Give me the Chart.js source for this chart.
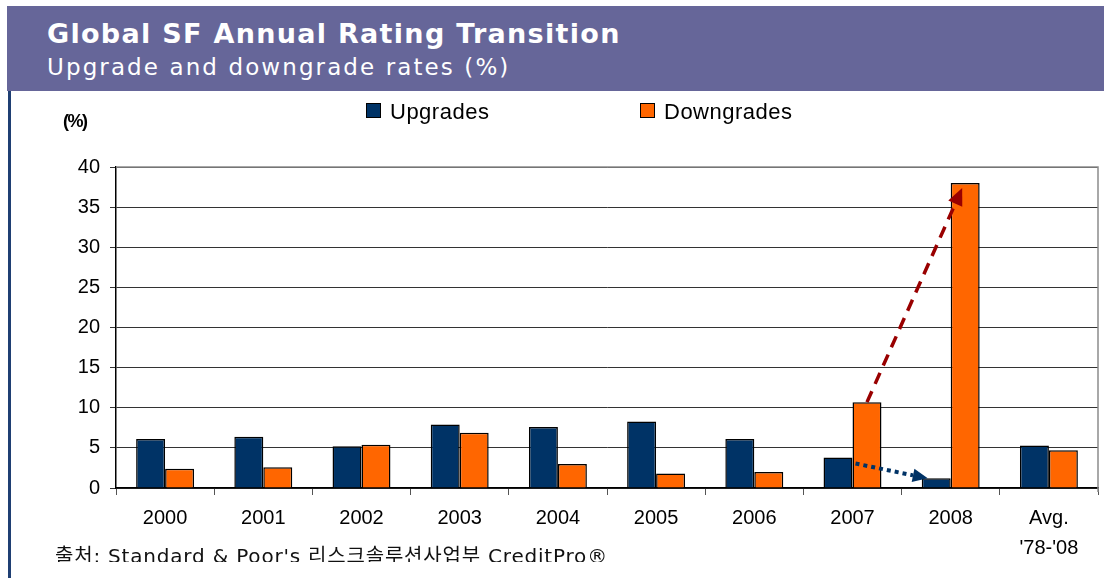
<!DOCTYPE html>
<html>
<head>
<meta charset="utf-8">
<script src="https://cdn.jsdelivr.net/npm/chart.js@4.4.1/dist/chart.umd.min.js"></script>
<style>
  html, body { margin: 0; padding: 0; background: #fff; }
  body { width: 1104px; height: 578px; position: relative; overflow: hidden; }
  #header { position: absolute; left: 7px; top: 6px; width: 1097px; height: 85px; background: #666699; color: #fff; font-family: "DejaVu Sans", Verdana, sans-serif; }
  #header .t1 { position: absolute; left: 40px; top: 12px; font-size: 27px; line-height: 32px; font-weight: bold; letter-spacing: 1.3px; }
  #header .t2 { position: absolute; left: 40px; top: 48px; font-size: 23px; line-height: 26px; letter-spacing: 2.1px; }
  #leftbar { position: absolute; left: 8px; top: 91px; width: 3px; height: 487px; background: #1f3f73; }
  #ytitle { position: absolute; left: 63px; top: 111px; font: bold 18px "Liberation Sans", Arial, sans-serif; letter-spacing: -1.5px; }
  .leg { position: absolute; top: 99px; font: 22px "Liberation Sans", Arial, sans-serif; letter-spacing: 0.5px; color: #000; }
  .leg span { display: inline-block; width: 13px; height: 13px; border: 1px solid #000; margin-right: 9px; vertical-align: 1px; }
  #source { position: absolute; left: 55px; top: 544px; height: 18px; overflow: hidden; font: 20px "DejaVu Sans", "Noto Sans CJK KR", sans-serif; line-height: 24px; letter-spacing: 0.8px; white-space: nowrap; color: #111; }
  #wrap { position: absolute; left: 0; top: 0; width: 1104px; height: 578px; }
</style>
</head>
<body>
<div id="header">
  <div class="t1">Global SF Annual Rating Transition</div>
  <div class="t2">Upgrade and downgrade rates (%)</div>
</div>
<div id="leftbar"></div>
<div id="wrap"><canvas id="rating-chart"></canvas></div>
<div id="ytitle">(%)</div>
<div id="legend"></div>
<div id="source">출처: Standard &amp; Poor's 리스크솔루션사업부 CreditPro®</div>
<script>
// chart data
const categories = ['2000', '2001', '2002', '2003', '2004', '2005', '2006', '2007', '2008', ['Avg.', "'78-'08"]];
const upgrades   = [6.1, 6.4, 5.2, 7.9, 7.6, 8.3, 6.1, 3.8, 1.2, 5.3];
const downgrades = [2.4, 2.6, 5.4, 6.9, 3.0, 1.8, 2.0, 10.7, 38.0, 4.7];
const yTicks = [0, 5, 10, 15, 20, 25, 30, 35, 40];

const upColor = '#003366';
const downColor = '#ff6600';

// html legend, placed like the original
const legendItems = [
    { label: 'Upgrades', color: upColor, left: 366 },
    { label: 'Downgrades', color: downColor, left: 640 }
];
legendItems.forEach(item => {
    const d = document.createElement('div');
    d.className = 'leg';
    d.style.left = item.left + 'px';
    d.innerHTML = '<span style="background:' + item.color + '"></span>' + item.label;
    document.getElementById('legend').appendChild(d);
});

function drawArrow(ctx, x1, y1, x2, y2, color, width, dash, head) {
    const ang = Math.atan2(y2 - y1, x2 - x1);
    const bx = x2 - Math.cos(ang) * head;
    const by = y2 - Math.sin(ang) * head;
    ctx.save();
    ctx.strokeStyle = color;
    ctx.fillStyle = color;
    ctx.lineWidth = width;
    ctx.setLineDash(dash);
    ctx.beginPath();
    ctx.moveTo(x1, y1);
    ctx.lineTo(bx, by);
    ctx.stroke();
    ctx.setLineDash([]);
    ctx.beginPath();
    ctx.moveTo(x2, y2);
    ctx.lineTo(bx + Math.cos(ang + Math.PI / 2) * head * 0.45, by + Math.sin(ang + Math.PI / 2) * head * 0.45);
    ctx.lineTo(bx + Math.cos(ang - Math.PI / 2) * head * 0.45, by + Math.sin(ang - Math.PI / 2) * head * 0.45);
    ctx.closePath();
    ctx.fill();
    ctx.restore();
}

// right/top frame of the plot + the two arrows
const extras = {
    id: 'extras',
    beforeDatasetsDraw(chart) {
        const a = chart.chartArea;
        const ctx = chart.ctx;
        ctx.save();
        ctx.strokeStyle = '#8c8c8c';
        ctx.lineWidth = 1.5;
        ctx.beginPath();
        ctx.moveTo(a.left, a.top);
        ctx.lineTo(a.right, a.top);
        ctx.lineTo(a.right, a.bottom + 4);
        ctx.stroke();
        ctx.restore();
    },
    afterDatasetsDraw(chart) {
        const ctx = chart.ctx;
        const up = chart.getDatasetMeta(0).data;
        const down = chart.getDatasetMeta(1).data;
        // 2007 -> 2008 downgrades
        drawArrow(ctx, down[7].x, down[7].y, down[8].x - 3, down[8].y + 5, '#990000', 3.5, [12, 8], 17);
        // 2007 -> 2008 upgrades
        drawArrow(ctx, up[7].x + up[7].width / 2 + 3, up[7].y + 6, up[8].x - up[8].width / 2 + 6, up[8].y, '#003366', 4, [4, 4], 15);
    }
};

const config = {
    type: 'bar',
    data: {
        labels: categories,
        datasets: [{
            label: 'Upgrades',
            data: upgrades,
            backgroundColor: upColor,
            borderColor: '#000',
            borderWidth: 1.5,
            borderSkipped: 'bottom'
        }, {
            label: 'Downgrades',
            data: downgrades,
            backgroundColor: downColor,
            borderColor: '#000',
            borderWidth: 1.5,
            borderSkipped: 'bottom'
        }]
    },
    options: {
        responsive: false,
        animation: false,
        events: [],
        layout: { padding: { top: 167, right: 6, left: 0, bottom: 0 } },
        datasets: { bar: { barPercentage: 1.0, categoryPercentage: 0.59 } },
        scales: {
            x: {
                grid: { display: true, drawOnChartArea: false, drawTicks: true, tickLength: 7, color: '#555', offset: true },
                border: { display: true, color: '#000', width: 1.5 },
                ticks: {
                    color: '#000',
                    padding: 8,
                    maxRotation: 0,
                    font: { family: '"Liberation Sans", Arial, sans-serif', size: 20, lineHeight: 1.5 }
                },
                afterFit: function(scale) { scale.height = 90; }
            },
            y: {
                min: 0,
                max: 40,
                afterBuildTicks: function(scale) { scale.ticks = yTicks.map(v => ({ value: v })); },
                grid: { color: '#333', lineWidth: 1, tickLength: 6, drawTicks: true },
                border: { display: true, color: '#000', width: 1.5 },
                ticks: {
                    color: '#000',
                    padding: 10,
                    font: { family: '"Liberation Sans", Arial, sans-serif', size: 20 }
                },
                afterFit: function(scale) { scale.width = 116; }
            }
        },
        plugins: {
            legend: { display: false },
            tooltip: { enabled: false }
        }
    },
    plugins: [extras]
};

const cv = document.getElementById('rating-chart');
cv.width = 1104;
cv.height = 578;
const ratingChart = new Chart(cv.getContext('2d'), config);
</script>
</body>
</html>
